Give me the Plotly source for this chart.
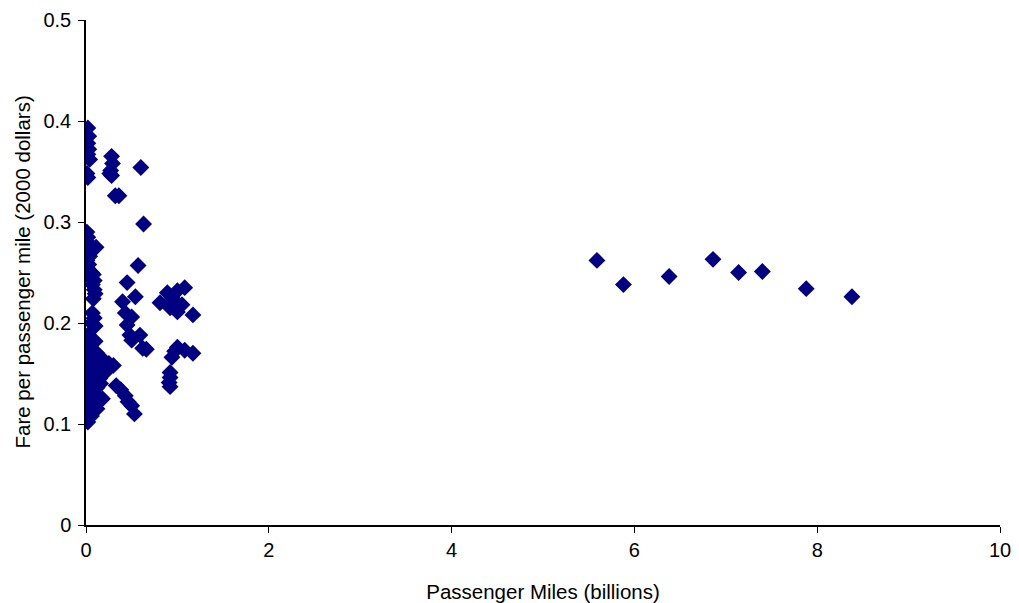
import plotly.graph_objects as go

# Passenger miles (billions) and fare per passenger mile (2000 dollars)
x_vals = [
    0.02, 0.03, 0.02, 0.03, 0.02, 0.04, 0.01, 0.02,
    0.28, 0.29, 0.27, 0.28, 0.26,
    0.60, 0.32, 0.36, 0.63,
    0.01, 0.02, 0.03, 0.01, 0.11, 0.02, 0.04, 0.01, 0.03, 0.02, 0.06, 0.08, 0.05, 0.09, 0.07, 0.09, 0.10, 0.08,
    0.09, 0.06, 0.10, 0.07,
    0.57, 0.45, 0.54, 0.40, 0.43, 0.50, 0.45, 0.48, 0.59, 0.62, 0.50, 0.66,
    0.81, 0.89, 0.94, 1.08, 1.00, 1.05, 1.17, 0.92, 1.00, 0.96,
    0.94, 1.00, 1.08, 1.17, 0.97,
    0.92, 0.92, 0.91, 0.92,
    0.33, 0.38, 0.43, 0.46, 0.50, 0.53,
    0.02, 0.05, 0.10, 0.01, 0.04, 0.08, 0.12, 0.02, 0.06, 0.11, 0.15, 0.20, 0.25, 0.30,
    0.01, 0.04, 0.08, 0.13, 0.18, 0.22, 0.02, 0.06, 0.10, 0.15, 0.01, 0.04, 0.08, 0.12,
    0.16, 0.02, 0.06, 0.10, 0.14, 0.18, 0.01, 0.04, 0.08, 0.12, 0.03, 0.06, 0.02, 0.09, 0.11,
    5.59, 5.88, 6.38, 6.86, 7.14, 7.40, 7.88, 8.38,
]
y_vals = [
    0.393, 0.385, 0.378, 0.372, 0.367, 0.362, 0.348, 0.344,
    0.365, 0.358, 0.351, 0.346, 0.348,
    0.354, 0.326, 0.326, 0.298,
    0.290, 0.285, 0.279, 0.275, 0.275, 0.270, 0.266, 0.262, 0.258, 0.254, 0.250, 0.248, 0.245, 0.242, 0.238, 0.233, 0.229, 0.224,
    0.205, 0.200, 0.197, 0.210,
    0.257, 0.240, 0.226, 0.221, 0.210, 0.206, 0.198, 0.188, 0.188, 0.175, 0.183, 0.174,
    0.220, 0.230, 0.225, 0.235, 0.211, 0.218, 0.208, 0.215, 0.232, 0.222,
    0.166, 0.176, 0.173, 0.170, 0.172,
    0.151, 0.146, 0.141, 0.137,
    0.138, 0.134, 0.128, 0.122, 0.118, 0.110,
    0.188, 0.184, 0.182, 0.178, 0.175, 0.172, 0.170, 0.168, 0.165, 0.163, 0.167, 0.162, 0.160, 0.158,
    0.160, 0.157, 0.155, 0.153, 0.155, 0.152, 0.150, 0.148, 0.146, 0.145, 0.142, 0.140, 0.138, 0.136,
    0.140, 0.133, 0.130, 0.128, 0.126, 0.125, 0.124, 0.121, 0.118, 0.115, 0.112, 0.108, 0.102, 0.135, 0.155,
    0.262, 0.238, 0.246, 0.263, 0.250, 0.251, 0.234, 0.226,
]

x_ticks = [0, 2, 4, 6, 8, 10]
y_ticks = [0, 0.1, 0.2, 0.3, 0.4, 0.5]
y_tick_labels = ["0", "0.1", "0.2", "0.3", "0.4", "0.5"]

fig = go.Figure()
fig.add_trace(go.Scatter(
    x=x_vals, y=y_vals, mode="markers",
    marker=dict(symbol="diamond", size=13, color="#000080", line=dict(width=0)),
    showlegend=False,
))

tick_font = dict(family="Liberation Sans, Arial, sans-serif", size=20, color="#000000")
title_font = dict(family="Liberation Sans, Arial, sans-serif", size=20.5, color="#000000")

fig.update_layout(
    width=1011, height=595,
    margin=dict(l=78, r=19, t=12, b=78),
    plot_bgcolor="white", paper_bgcolor="white",
    font=tick_font,
    xaxis=dict(
        range=[0, 10], tickvals=x_ticks, showgrid=False, zeroline=False,
        showline=True, linecolor="black", linewidth=1.5,
        ticks="outside", ticklen=6, tickcolor="black", tickfont=tick_font,
        automargin=False,
        title=dict(text="Passenger Miles (billions)", font=title_font, standoff=25),
    ),
    yaxis=dict(
        range=[0, 0.5], tickvals=y_ticks, ticktext=y_tick_labels, showgrid=False, zeroline=False,
        showline=True, linecolor="black", linewidth=1.5,
        ticks="outside", ticklen=6, tickcolor="black", tickfont=tick_font,
        ticklabelstandoff=3,
        automargin=False,
    ),
    annotations=[dict(
        text="Fare per passenger mile (2000 dollars)", font=title_font,
        xref="paper", yref="paper", x=-0.070, y=0.5,
        xanchor="center", yanchor="middle", textangle=-90, showarrow=False,
        borderpad=0,
    )],
)

fig.write_html("out.html")
